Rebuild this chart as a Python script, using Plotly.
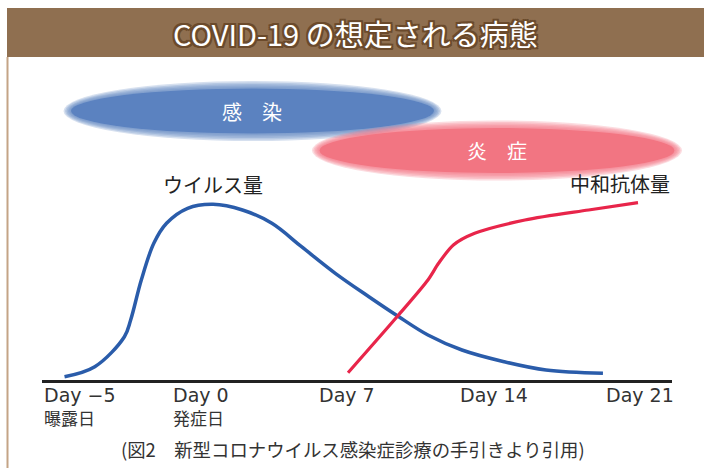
import plotly.graph_objects as go

# ---- data (illustrative curves, x in days, y in arbitrary units) ----
virus_days = [-6.42, -4.97, -3.55, -3.25, -2.74, -2.14, -1.53, -0.52, 0.70, 2.11,
              3.52, 4.94, 6.56, 8.17, 9.55, 11.0, 12.63, 14.65, 16.66, 19.39]
virus_load = [3.3, 13.3, 43.3, 60, 100, 136.7, 156.7, 171.7, 175.7, 170,
              156.7, 133.3, 106.7, 83.3, 64, 45, 30, 18.3, 10, 6.7]

antibody_days = [7.17, 9.55, 11.0, 11.51, 12.22, 13.24, 15.65, 18.70, 21.07]
antibody_level = [7.3, 64, 100, 116.7, 135, 146.7, 160, 170, 177.3]

tick_days = [-5, 0, 7, 14, 21]
tick_labels = ["Day −5", "Day 0", "Day 7", "Day 14", "Day 21"]
tick_sublabels = ["曝露日", "発症日", "", "", ""]

phase_names = ["感　染", "炎　症"]
phase_center_days = [2.59, 14.31]
phase_center_levels = [269, 229.5]
phase_half_width_days = [8.82, 8.63]
phase_half_height = [25, 25]
phase_colors = [(91, 130, 192), (242, 117, 130)]

title_text = "COVID-19 の想定される病態"
caption_text = "(図2　新型コロナウイルス感染症診療の手引きより引用)"
virus_label = "ウイルス量"
antibody_label = "中和抗体量"

FONT = "Noto Sans CJK JP"
LATIN_FONT = "DejaVu Sans, Noto Sans CJK JP"
W, H = 704, 468
ML, MR, MT, MB = 42, 32, 60, 88
XR = [-7.5, 22.7]
YR = [0, 320]
PX_PER_DAY = (W - ML - MR) / (XR[1] - XR[0])
PX_PER_UNIT = (H - MT - MB) / (YR[1] - YR[0])

fig = go.Figure()
fig.add_trace(go.Scatter(x=virus_days, y=virus_load, mode="lines",
                         line=dict(color="#2a5caa", width=3.5, shape="spline", smoothing=1.0),
                         hoverinfo="skip", showlegend=False))
fig.add_trace(go.Scatter(x=antibody_days, y=antibody_level, mode="lines",
                         line=dict(color="#e8254a", width=3.2, shape="spline", smoothing=0.8),
                         hoverinfo="skip", showlegend=False))

shapes = []
annotations = []

def day2paper(d):
    return (d - XR[0]) / (XR[1] - XR[0])

def val2paper(v):
    return (v - YR[0]) / (YR[1] - YR[0])

def px2paper_x(px):
    return (px - ML) / (W - ML - MR)

def px2paper_y(py):
    return (H - MB - py) / (H - MT - MB)

# soft-edged ellipses (layered to imitate a blur); paper refs so they are not clipped
for name, cx, cy, hw, hh, col in zip(phase_names, phase_center_days, phase_center_levels,
                                      phase_half_width_days, phase_half_height, phase_colors):
    pads = [5, 3.5, 2, 0.5, -1, -2.5]
    for i, p in enumerate(pads):
        op = 0.25 if i < len(pads) - 1 else 1.0
        shapes.append(dict(type="circle", xref="paper", yref="paper",
                           x0=day2paper(cx - hw - p / PX_PER_DAY), x1=day2paper(cx + hw + p / PX_PER_DAY),
                           y0=val2paper(cy - hh - p / PX_PER_UNIT), y1=val2paper(cy + hh + p / PX_PER_UNIT),
                           fillcolor="rgba(%d,%d,%d,%.2f)" % (col + (op,)),
                           line=dict(width=0), layer="below"))
    annotations.append(dict(x=cx, y=cy, xref="x", yref="y", text=name, showarrow=False,
                            font=dict(family=FONT, size=20, color="white")))

# title bar and left border
shapes.append(dict(type="rect", xref="paper", yref="paper",
                   x0=px2paper_x(7), x1=px2paper_x(705), y0=px2paper_y(57), y1=px2paper_y(8),
                   fillcolor="#8f6f50", line=dict(width=0), layer="below"))
shapes.append(dict(type="line", xref="paper", yref="paper",
                   x0=px2paper_x(7.5), x1=px2paper_x(7.5), y0=px2paper_y(57), y1=px2paper_y(468),
                   line=dict(color="#c4a486", width=2)))

oc = "#6b4a2b"
outline = ", ".join("%dpx %dpx 0 %s" % (dx, dy, oc)
                    for dx, dy in [(2, 0), (-2, 0), (0, 2), (0, -2), (2, 2), (-2, -2), (2, -2), (-2, 2)])
annotations.append(dict(x=px2paper_x(355), y=px2paper_y(33), xref="paper", yref="paper",
                        text=title_text, showarrow=False, yanchor="middle", xanchor="center",
                        font=dict(family=FONT, size=29, color="white", shadow=outline)))

# curve labels
annotations.append(dict(x=virus_days[8], y=virus_load[8], xref="x", yref="y", text=virus_label,
                        showarrow=False, yanchor="bottom", yshift=3,
                        font=dict(family=FONT, size=20, color="#222")))
annotations.append(dict(x=XR[1], y=antibody_level[-1], xref="x", yref="y", text=antibody_label,
                        showarrow=False, yanchor="bottom", xanchor="right", yshift=3,
                        font=dict(family=FONT, size=20, color="#222")))

# tick labels (two rows); the first is held at the axis start, the last at the axis end
n_ticks = len(tick_days)
for i, (d, t, s) in enumerate(zip(tick_days, tick_labels, tick_sublabels)):
    if i == 0:
        xa, xv, xs, xs2 = "left", XR[0], 0, 0
    elif i == n_ticks - 1:
        xa, xv, xs, xs2 = "right", XR[1], 4, 4
    else:
        xa, xv, xs, xs2 = "center", d, 3, 0
    annotations.append(dict(x=xv, y=0, xref="x", yref="paper", text=t, showarrow=False,
                            xanchor=xa, yanchor="middle", yshift=-15, xshift=xs,
                            font=dict(family=LATIN_FONT, size=19, color="#333")))
    if s:
        annotations.append(dict(x=xv, y=0, xref="x", yref="paper", text=s, showarrow=False,
                                xanchor=xa, yanchor="middle", yshift=-37, xshift=xs2,
                                font=dict(family=FONT, size=17, color="#333")))

annotations.append(dict(x=px2paper_x(353), y=px2paper_y(449), xref="paper", yref="paper",
                        text=caption_text, showarrow=False, yanchor="middle", xanchor="center",
                        font=dict(family=FONT, size=18.4, color="#333")))

fig.update_layout(
    width=W, height=H,
    margin=dict(l=ML, r=MR, t=MT, b=MB),
    paper_bgcolor="white", plot_bgcolor="white",
    xaxis=dict(range=XR, showgrid=False, zeroline=False, showticklabels=False, ticks="",
               showline=True, linecolor="#222", linewidth=3, fixedrange=True),
    yaxis=dict(range=YR, visible=False, fixedrange=True),
    shapes=shapes, annotations=annotations,
)
fig.write_html("out.html", config={"displayModeBar": False},
               post_script="document.body.style.margin='0';")
